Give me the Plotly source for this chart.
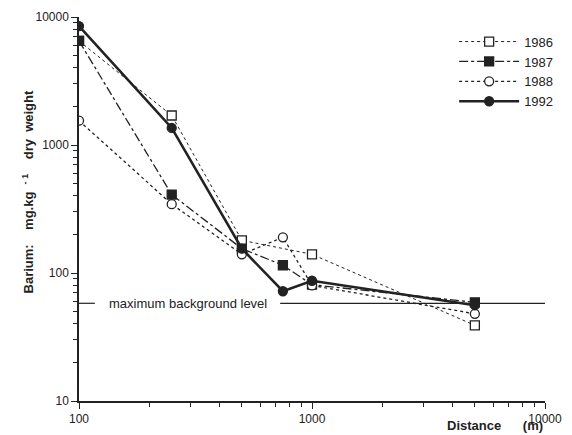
import plotly.graph_objects as go

distance = [100, 250, 500, 750, 1000, 5000]
ba_1986 = [6500, 1700, 180, None, 140, 39]
ba_1987 = [6500, 410, 155, 115, 81, 59]
ba_1988 = [1550, 345, 140, 190, 80, 48]
ba_1992 = [8500, 1360, 155, 72, 87, 56]
background_level = 58

x_ticks = [100, 1000, 10000]
y_ticks = [10, 100, 1000, 10000]

ink = "#222222"
fig = go.Figure()

def add(name, y, dash, width, symbol, filled):
    xs = [d for d, v in zip(distance, y) if v is not None]
    ys = [v for v in y if v is not None]
    fig.add_trace(go.Scatter(
        x=xs, y=ys, name=name, mode="lines+markers",
        line=dict(color=ink, width=width, dash=dash),
        marker=dict(symbol=symbol, size=9, color=ink if filled else "white",
                    line=dict(color=ink, width=1.3)),
    ))

add("1986", ba_1986, "dot", 1, "square", False)
add("1987", ba_1987, "dashdot", 1.3, "square", True)
add("1988", ba_1988, "3px,3px", 1.3, "circle", False)
add("1992", ba_1992, "solid", 2.6, "circle", True)

# background level line with label gap
fig.add_shape(type="line", xref="x", yref="y", x0=100, x1=117,
              y0=background_level, y1=background_level, line=dict(color=ink, width=1.2))
fig.add_shape(type="line", xref="x", yref="y", x0=730, x1=10000,
              y0=background_level, y1=background_level, line=dict(color=ink, width=1.2))
fig.add_annotation(x=2.468, xref="x", y=1.7634, yref="y",
                   text="maximum background level", showarrow=False,
                   font=dict(size=13, color=ink), xanchor="center", yanchor="middle")

minor_x = [v * m for m in (100, 1000) for v in range(2, 10)]
minor_y = [v * m for m in (10, 100, 1000) for v in range(2, 10)]

fig.update_xaxes(type="log", range=[2, 4], tickvals=x_ticks, ticktext=[str(v) for v in x_ticks],
                 showgrid=False, zeroline=False, showline=True, linecolor=ink, linewidth=1.5,
                 ticks="outside", ticklen=6, tickcolor=ink, tickwidth=1.3, automargin=False,
                 minor=dict(tickvals=minor_x, ticks="outside", ticklen=4, tickcolor=ink, showgrid=False),
                 tickfont=dict(size=12, color=ink))
fig.update_yaxes(type="log", range=[1, 4], tickvals=y_ticks, ticktext=[str(v) for v in y_ticks],
                 showgrid=False, zeroline=False, showline=True, linecolor=ink, linewidth=1.5,
                 ticks="outside", ticklen=6, tickcolor=ink, tickwidth=1.3, automargin=False,
                 minor=dict(tickvals=minor_y, ticks="outside", ticklen=4, tickcolor=ink, showgrid=False),
                 tickfont=dict(size=12, color=ink))

fig.add_annotation(x=1.0, xref="paper", y=-0.088, yref="paper", yanchor="bottom", xanchor="right",
                   text="<b>Distance      (m)</b>", showarrow=False, font=dict(size=13, color=ink))
fig.add_annotation(x=-0.11, xref="paper", y=0.545, yref="paper", textangle=-90,
                   text="<b>Barium:    mg.kg  <sup>- 1</sup>    dry  weight</b>", showarrow=False,
                   font=dict(size=13, color=ink), xanchor="center", yanchor="middle")

fig.update_layout(
    width=572, height=435, paper_bgcolor="white", plot_bgcolor="white",
    margin=dict(l=79, r=27, t=17, b=34),
    font=dict(family="Liberation Sans, Arial, sans-serif", color=ink),
    showlegend=True,
    legend=dict(x=0.805, y=0.975, xanchor="left", yanchor="top", bgcolor="rgba(0,0,0,0)",
                font=dict(size=13, color=ink), tracegroupgap=2, itemwidth=60),
)

fig.write_html("out.html")
